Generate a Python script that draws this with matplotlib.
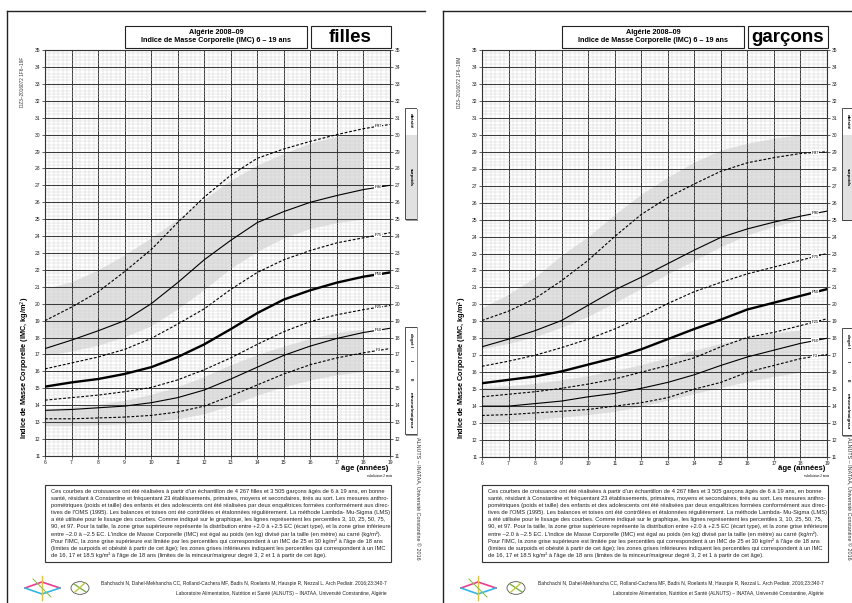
import numpy as np
import matplotlib
matplotlib.use('Agg')
import matplotlib.pyplot as plt
from matplotlib.patches import Rectangle
from matplotlib.lines import Line2D

plt.rcParams['font.family'] = ['Liberation Sans', 'DejaVu Sans']

W, H = 853, 603

# ---- data ----
ages = [6, 7, 8, 9, 10, 11, 12, 13, 14, 15, 16, 17, 18, 19]
pct_names = ['P3', 'P10', 'P25', 'P50', 'P75', 'P90', 'P97']

girls_p3 = [13.2, 13.2, 13.25, 13.3, 13.4, 13.6, 13.95, 14.55, 15.2, 15.85, 16.4, 16.8, 17.1, 17.35]
girls_p10 = [13.7, 13.75, 13.85, 13.95, 14.15, 14.45, 14.9, 15.55, 16.25, 16.95, 17.5, 17.95, 18.3, 18.55]
girls_p25 = [14.3, 14.45, 14.6, 14.8, 15.05, 15.5, 16.1, 16.8, 17.6, 18.35, 18.95, 19.35, 19.65, 19.9]
girls_p50 = [15.1, 15.35, 15.55, 15.85, 16.25, 16.85, 17.6, 18.5, 19.45, 20.25, 20.8, 21.25, 21.6, 21.85]
girls_p75 = [16.15, 16.5, 16.85, 17.3, 17.95, 18.8, 19.7, 20.85, 21.85, 22.6, 23.15, 23.6, 23.9, 24.2]
girls_p90 = [17.35, 17.85, 18.4, 19.0, 20.0, 21.25, 22.6, 23.75, 24.8, 25.45, 26.0, 26.4, 26.75, 27.0]
girls_p97 = [19.0, 19.8, 20.7, 21.9, 23.2, 24.8, 26.3, 27.6, 28.6, 29.15, 29.6, 30.0, 30.35, 30.6]

boys_p3 = [13.45, 13.5, 13.6, 13.7, 13.8, 14.0, 14.2, 14.5, 15.0, 15.4, 16.0, 16.4, 16.8, 17.05]
boys_p10 = [14.0, 14.0, 14.15, 14.3, 14.55, 14.75, 15.05, 15.4, 15.85, 16.4, 16.9, 17.3, 17.7, 18.0]
boys_p25 = [14.55, 14.7, 14.85, 15.05, 15.3, 15.6, 16.0, 16.4, 16.85, 17.5, 18.05, 18.35, 18.75, 19.15]
boys_p50 = [15.35, 15.55, 15.75, 16.05, 16.45, 16.85, 17.35, 17.95, 18.55, 19.1, 19.7, 20.1, 20.5, 20.9]
boys_p75 = [16.35, 16.65, 17.0, 17.45, 17.95, 18.55, 19.25, 20.05, 20.75, 21.3, 21.8, 22.2, 22.6, 23.0]
boys_p90 = [17.5, 17.95, 18.45, 19.05, 19.95, 20.85, 21.6, 22.4, 23.2, 23.95, 24.45, 24.85, 25.2, 25.5]
boys_p97 = [19.05, 19.6, 20.35, 21.4, 22.6, 24.0, 25.3, 26.3, 27.1, 27.85, 28.35, 28.65, 28.9, 29.0]

# cut-off curves (gray zones), ages 6-18
band_ages = [6, 7, 8, 9, 10, 11, 12, 13, 14, 15, 16, 17, 18]
girls_c30 = [20.9, 21.3, 22.0, 22.9, 23.9, 25.0, 26.2, 27.3, 28.2, 28.9, 29.5, 29.9, 30.0]
girls_c25 = [16.95, 17.2, 17.55, 18.05, 18.7, 19.7, 20.85, 22.1, 23.1, 23.9, 24.45, 24.8, 25.0]
girls_c185 = [13.75, 13.9, 14.05, 14.3, 14.65, 15.1, 15.7, 16.4, 17.0, 17.5, 17.95, 18.3, 18.5]
girls_c16 = [12.8, 12.8, 12.85, 12.9, 13.0, 13.2, 13.5, 14.0, 14.6, 15.1, 15.5, 15.8, 16.0]
boys_c30 = [19.8, 20.6, 21.6, 22.9, 24.0, 25.3, 26.5, 27.5, 28.4, 29.1, 29.5, 29.8, 30.0]
boys_c25 = [17.4, 17.7, 18.1, 18.65, 19.3, 20.1, 20.95, 21.8, 22.6, 23.4, 24.1, 24.6, 25.0]
boys_c185 = [15.1, 15.2, 15.35, 15.55, 15.8, 16.1, 16.45, 16.85, 17.3, 17.7, 18.05, 18.3, 18.5]
boys_c16 = [13.05, 13.1, 13.2, 13.35, 13.5, 13.7, 14.0, 14.35, 14.75, 15.1, 15.45, 15.75, 16.0]

note_lines = [
    "Ces courbes de croissance ont été réalisées à partir d'un échantillon de 4 267 filles et 3 505 garçons âgés de 6 à 19 ans, en bonne",
    "santé, résidant à Constantine et fréquentant 23 établissements, primaires, moyens et secondaires, tirés au sort. Les mesures anthro-",
    "pométriques (poids et taille) des enfants et des adolescents ont été réalisées par deux enquêtrices formées conformément aux direc-",
    "tives de l'OMS (1995). Les balances et toises ont été contrôlées et étalonnées régulièrement. La méthode Lambda- Mu-Sigma (LMS)",
    "a été utilisée pour le lissage des courbes. Comme indiqué sur le graphique, les lignes représentent les percentiles 3, 10, 25, 50, 75,",
    "90, et 97. Pour la taille, la zone grise supérieure représente la distribution entre +2.0 à +2.5 EC (écart type), et la zone grise inférieure",
    "entre –2.0 à –2.5 EC. L'indice de Masse Corporelle (IMC) est égal au poids (en kg) divisé par la taille (en mètre) au carré (kg/m²).",
    "Pour l'IMC, la zone grise supérieure est limitée par les percentiles qui correspondent à un IMC de 25 et 30 kg/m² à l'âge de 18 ans",
    "(limites de surpoids et obésité à partir de cet âge); les zones grises inférieures indiquent les percentiles qui correspondent à un IMC",
    "de 16, 17 et 18.5 kg/m² à l'âge de 18 ans (limites de la minceur/maigreur degré 3, 2 et 1 à partir de cet âge).",
]
cite1 = "Bahchachi N, Dahel-Mekhancha CC, Rolland-Cachera MF, Badis N, Roelants M, Hauspie R, Nezzal L. Arch Pediatr. 2016;23:340-7"
cite2 = "Laboratoire Alimentation, Nutrition et Santé (ALNUTS) – INATAA, Université Constantine, Algérie"

fig = plt.figure(figsize=(W / 100, H / 100), dpi=100)
fig.patch.set_facecolor('white')

GRAY = '#e1e1e1'


def fx(x):
    return x / W


def fy(y):
    return 1 - y / H


def px_axes(x0, y0, x1, y1):
    return fig.add_axes([fx(x0), fy(y1), (x1 - x0) / W, (y1 - y0) / H])


def fig_line(xs, ys, **kw):
    fig.add_artist(Line2D([fx(v) for v in xs], [fy(v) for v in ys], transform=fig.transFigure, **kw))


def fig_box(x0, y0, x1, y1, **kw):
    fig.add_artist(Rectangle((fx(x0), fy(y1)), (x1 - x0) / W, (y1 - y0) / H,
                             transform=fig.transFigure, **kw))


def draw_page(px, box, sex_word, code, curves, c30, c25, c185, c16, credit_x):
    x0, y0, x1, y1 = box
    ax = px_axes(x0, y0, x1, y1)
    ax.set_xlim(6, 19)
    ax.set_ylim(11, 35)
    ax.set_xticks(range(6, 20))
    ax.set_yticks(range(11, 36))
    ax.set_xticks(np.arange(6, 19.001, 1 / 6), minor=True)
    ax.set_yticks(np.arange(11, 35.001, 0.2), minor=True)
    ax.grid(which='minor', color='#d2d2d2', lw=0.35)
    ax.grid(which='major', color='#3a3a3a', lw=0.75)
    ax.tick_params(which='minor', length=0)
    ax.tick_params(which='major', length=2, width=0.5, labelsize=3.6, pad=1.2,
                   right=True, labelright=True, colors='#222222')
    for s in ax.spines.values():
        s.set_linewidth(0.8)
        s.set_color('#333333')

    ax.fill_between(band_ages, c25, c30, color=GRAY, lw=0, zorder=1)
    ax.fill_between(band_ages, c16, c185, color=GRAY, lw=0, zorder=1)

    for name, vals in zip(pct_names, curves):
        if name == 'P50':
            ax.plot(ages, vals, color='black', lw=1.7, zorder=3)
        elif name in ('P10', 'P90'):
            ax.plot(ages, vals, color='black', lw=0.8, zorder=3)
        else:
            ax.plot(ages, vals, color='black', lw=0.8, ls=(0, (2.5, 1.6)), zorder=3)
        ax.text(18.55, np.interp(18.55, ages, vals), name, fontsize=3, ha='center', va='center',
                zorder=4, bbox=dict(boxstyle='square,pad=0.1', fc='white', ec='none'))

    # side strip with weight-status labels
    sx0 = x1 + 15
    st = px_axes(sx0, y0, sx0 + 12, y1)
    st.set_xlim(0, 1)
    st.set_ylim(11, 35)
    st.axis('off')
    st.add_patch(Rectangle((0.12, 24.9), 1, 6.6, fc='#9a9a9a', ec='none', clip_on=False))
    st.add_patch(Rectangle((0, 25), 1, 5, fc=GRAY, ec='none'))
    st.add_patch(Rectangle((0, 30), 1, 1.6, fc='white', ec='none'))
    st.add_patch(Rectangle((0, 25), 1, 6.6, fill=False, ec='#333333', lw=0.6))
    st.text(0.5, 30.8, 'obésité', rotation=270, fontsize=3.2, fontweight='bold', ha='center', va='center')
    st.text(0.5, 27.5, 'surpoids', rotation=270, fontsize=3.2, fontweight='bold', ha='center', va='center')
    st.add_patch(Rectangle((0.12, 12.2), 1, 6.4, fc='#9a9a9a', ec='none', clip_on=False))
    st.add_patch(Rectangle((0, 12.3), 1, 6.3, fc='white', ec='#333333', lw=0.6))
    st.text(0.5, 17.85, 'degré I', rotation=270, fontsize=3.2, fontweight='bold', ha='center', va='center')
    st.text(0.5, 16.6, 'II', rotation=270, fontsize=3.2, fontweight='bold', ha='center', va='center')
    st.text(0.5, 15.5, 'III', rotation=270, fontsize=3.2, fontweight='bold', ha='center', va='center')
    st.text(0.5, 13.7, 'minceur/maigreur', rotation=270, fontsize=3.2, fontweight='bold', ha='center', va='center')

    # page border
    fig_line([px, px], [11, 603], color='#222222', lw=1.0)
    fig_line([px, px + 418], [11, 11], color='#222222', lw=1.0)

    # title boxes
    fig_box(x0 + 80, 26, x0 + 262, 48, fill=False, ec='#222222', lw=0.8)
    fig.text(fx(x0 + 171), fy(32), 'Algérie 2008–09', fontsize=5.2, fontweight='bold', ha='center', va='center')
    fig.text(fx(x0 + 171), fy(41), 'Indice de Masse Corporelle (IMC) 6 – 19 ans', fontsize=5.2,
             fontweight='bold', ha='center', va='center')
    fig_box(x0 + 266, 26, x1 + 1, 48, fill=False, ec='#222222', lw=0.8)
    fig.text(fx((x0 + 266 + x1) / 2), fy(37), sex_word, fontsize=13.5, fontweight='bold', ha='center', va='center')

    # side texts
    fig.text(fx(x0 - 22), fy(82), code, rotation=90, fontsize=3.4, ha='center', va='center', color='#333333')
    fig.text(fx(x0 - 20), fy(368), 'Indice de Masse Corporelle (IMC, kg/m$^2$)', rotation=90, fontsize=5.3,
             fontweight='bold', ha='center', va='center')
    fig.text(fx(credit_x), fy(498), 'ALNUTS – INATAA, Université Constantine © 2016', rotation=270,
             fontsize=3.9, ha='center', va='center', color='#333333')
    fig.text(fx(x1 - 2), fy(469), 'âge (années)', fontsize=5.6, fontweight='bold', ha='right', va='center')
    fig.text(fx(x1 - 10), fy(476), 'subdivision 2 mois', fontsize=2.2, ha='center', va='center')

    # note box
    fig_box(x0, 485, x1 + 1, 562, fill=False, ec='#333333', lw=0.8)
    for i, line in enumerate(note_lines):
        fig.text(fx(x0 + 6), fy(491 + i * 7.15), line, fontsize=4.15, ha='left', va='center', color='#222222')

    # citation
    fig.text(fx(x1 - 3), fy(583), cite1, fontsize=3.5, ha='right', va='center', color='#222222')
    fig.text(fx(x1 - 3), fy(594), cite2, fontsize=3.5, ha='right', va='center', color='#222222')

    # logos (simplified)
    lx = px + 18
    fig_line([lx, lx + 17, lx + 35], [588, 582, 588], color='#e83e8c', lw=1.2)
    fig_line([lx, lx + 17, lx + 35], [588, 594, 588], color='#33b5e5', lw=1.2)
    fig_line([lx + 17, lx + 17], [576, 600], color='#f2c500', lw=1.0)
    fig_line([lx + 8, lx + 26], [579, 597], color='#8bc34a', lw=0.8)
    circ = plt.Circle((fx(lx + 55), fy(588)), 9 / W, transform=fig.transFigure, fill=False,
                      ec='#555555', lw=0.6)
    fig.add_artist(circ)
    fig_line([lx + 49, lx + 61], [584, 592], color='#7cb342', lw=1.0)
    fig_line([lx + 50, lx + 60], [592, 583], color='#c0ca33', lw=1.0)


draw_page(7, (45, 50, 390, 456), 'filles', 'DZ3–2016072 1F6–19F',
          [girls_p3, girls_p10, girls_p25, girls_p50, girls_p75, girls_p90, girls_p97],
          girls_c30, girls_c25, girls_c185, girls_c16, 417)
draw_page(443, (482, 50, 827, 457), 'garçons', 'DZ3–2016072 1F6–19M',
          [boys_p3, boys_p10, boys_p25, boys_p50, boys_p75, boys_p90, boys_p97],
          boys_c30, boys_c25, boys_c185, boys_c16, 848)

plt.savefig('out.png', dpi=100)
